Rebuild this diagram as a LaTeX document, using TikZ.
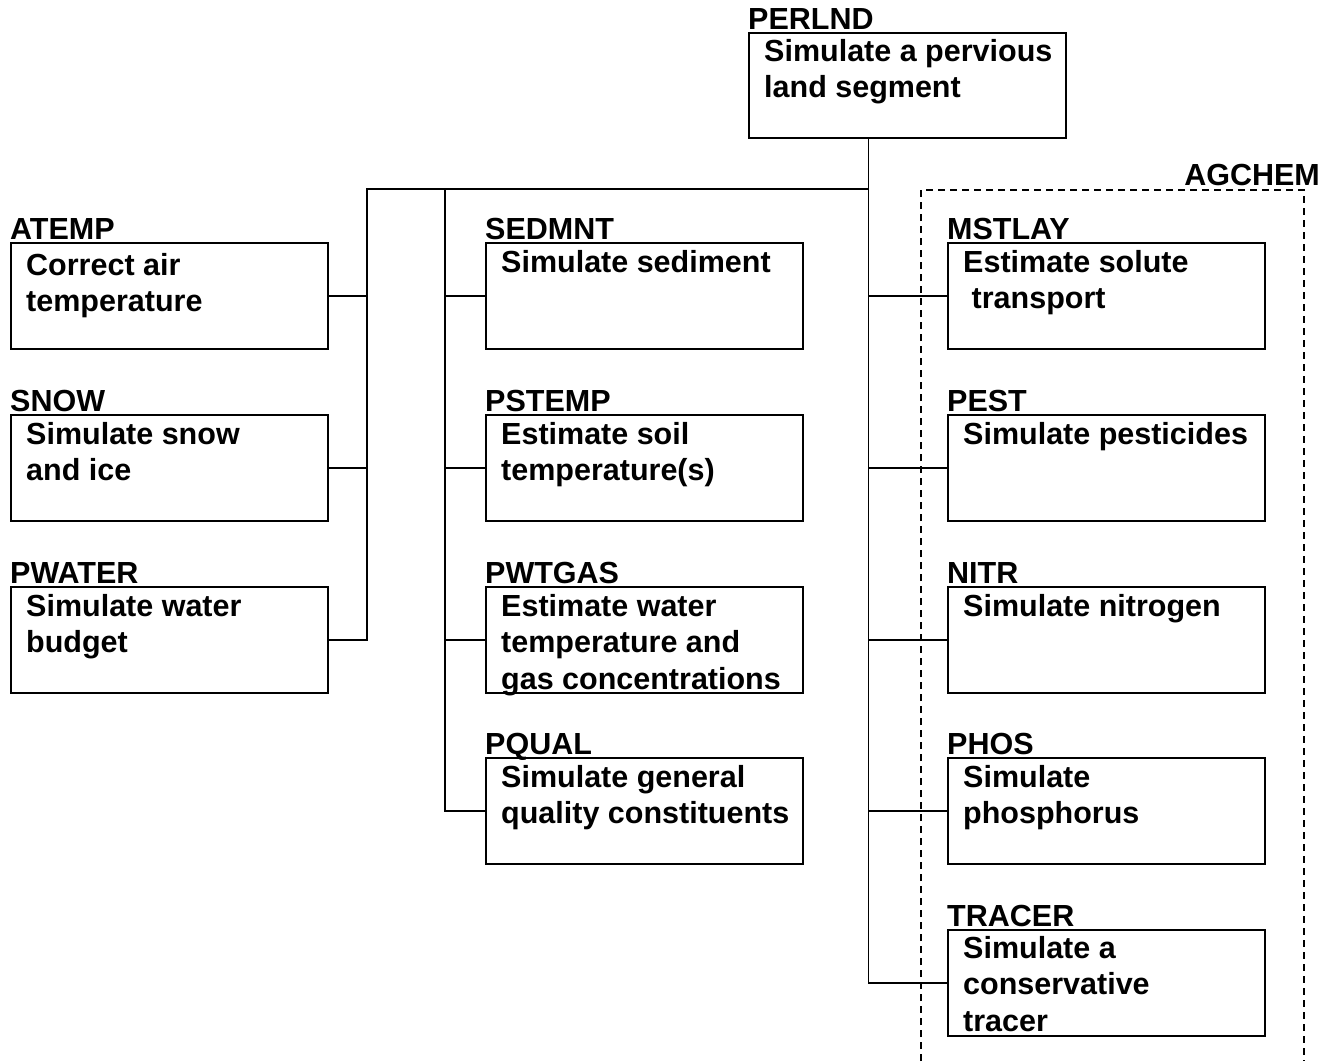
\documentclass[tikz,border=0pt]{standalone}
\usepackage{fontspec}
\setmainfont{Liberation Sans}
\usepackage{tikz}

\tikzset{
  procbox/.style={draw, line width=2pt, minimum width=317pt, minimum height=106pt, inner sep=0pt, anchor=north west},
  codename/.style={anchor=base west, inner sep=0pt, font=\bfseries\fontsize{30.5}{36.5}\selectfont},
  proctext/.style={anchor=base west, inner sep=0pt, font=\bfseries\fontsize{30.5}{36.5}\selectfont},
  conn/.style={line width=1.5pt},
  agframe/.style={line width=1.5pt, dash pattern=on 7pt off 5pt}
}

\begin{document}
\begin{tikzpicture}[x=1pt, y=-1pt]
\useasboundingbox (0,0) rectangle (1337,1061);

% top level module
\node[procbox, minimum height=105pt] (perlnd) at (748,32) {};
\node[codename] (perlndname) at ([yshift=3pt]perlnd.north west) {PERLND};
\node[proctext] (perlndtext) at ([xshift=16pt, yshift=-29pt]perlnd.north west) {\parbox[t]{300pt}{Simulate a pervious\\land segment}};

% left column
\node[procbox] (atemp) at (10,242) {};
\node[procbox] (snow) at (10,414) {};
\node[procbox] (pwater) at (10,586) {};
\node[codename] (atempname) at ([yshift=3pt]atemp.north west) {ATEMP};
\node[codename] (snowname) at ([yshift=3pt]snow.north west) {SNOW};
\node[codename] (pwatername) at ([yshift=3pt]pwater.north west) {PWATER};
\node[proctext] (atemptext) at ([xshift=16pt, yshift=-33pt]atemp.north west) {\parbox[t]{300pt}{Correct air\\temperature}};
\node[proctext] (snowtext) at ([xshift=16pt, yshift=-30pt]snow.north west) {\parbox[t]{300pt}{Simulate snow\\and ice}};
\node[proctext] (pwatertext) at ([xshift=16pt, yshift=-30pt]pwater.north west) {\parbox[t]{300pt}{Simulate water\\budget}};

% middle column
\node[procbox] (sedmnt) at (485,242) {};
\node[procbox] (pstemp) at (485,414) {};
\node[procbox] (pwtgas) at (485,586) {};
\node[procbox] (pqual) at (485,757) {};
\node[codename] (sedmntname) at ([yshift=3pt]sedmnt.north west) {SEDMNT};
\node[codename] (pstempname) at ([yshift=3pt]pstemp.north west) {PSTEMP};
\node[codename] (pwtgasname) at ([yshift=3pt]pwtgas.north west) {PWTGAS};
\node[codename] (pqualname) at ([yshift=3pt]pqual.north west) {PQUAL};
\node[proctext] (sedmnttext) at ([xshift=16pt, yshift=-30pt]sedmnt.north west) {\parbox[t]{300pt}{Simulate sediment}};
\node[proctext] (pstemptext) at ([xshift=16pt, yshift=-30pt]pstemp.north west) {\parbox[t]{300pt}{Estimate soil\\temperature(s)}};
\node[proctext] (pwtgastext) at ([xshift=16pt, yshift=-30pt]pwtgas.north west) {\parbox[t]{300pt}{Estimate water\\temperature and\\gas concentrations}};
\node[proctext] (pqualtext) at ([xshift=16pt, yshift=-30pt]pqual.north west) {\parbox[t]{300pt}{Simulate general\\quality constituents}};

% right column (AGCHEM)
\node[procbox] (mstlay) at (947,242) {};
\node[procbox] (pest) at (947,414) {};
\node[procbox] (nitr) at (947,586) {};
\node[procbox] (phos) at (947,757) {};
\node[procbox] (tracer) at (947,929) {};
\node[codename] (mstlayname) at ([yshift=3pt]mstlay.north west) {MSTLAY};
\node[codename] (pestname) at ([yshift=3pt]pest.north west) {PEST};
\node[codename] (nitrname) at ([yshift=3pt]nitr.north west) {NITR};
\node[codename] (phosname) at ([yshift=3pt]phos.north west) {PHOS};
\node[codename] (tracername) at ([yshift=3pt]tracer.north west) {TRACER};
\node[proctext] (mstlaytext) at ([xshift=16pt, yshift=-30pt]mstlay.north west) {\parbox[t]{300pt}{Estimate solute\\\hspace*{8.5pt}transport}};
\node[proctext] (pesttext) at ([xshift=16pt, yshift=-30pt]pest.north west) {\parbox[t]{300pt}{Simulate pesticides}};
\node[proctext] (nitrtext) at ([xshift=16pt, yshift=-30pt]nitr.north west) {\parbox[t]{300pt}{Simulate nitrogen}};
\node[proctext] (phostext) at ([xshift=16pt, yshift=-30pt]phos.north west) {\parbox[t]{300pt}{Simulate\\phosphorus}};
\node[proctext] (tracertext) at ([xshift=16pt, yshift=-29pt]tracer.north west) {\parbox[t]{300pt}{Simulate a\\conservative\\tracer}};

\draw[agframe] (921,1061) -- (921,190) -- (1304,190) -- (1304,1061);
\node[codename, anchor=base east] (agchem) at (1320,185) {AGCHEM};

% connectors
\coordinate (trunk) at ([xshift=-39pt]perlnd.south);
\coordinate (busL) at (367,189);
\coordinate (busM) at (445,189);
\draw[conn] (trunk) -- (trunk |- tracer.west) -- (tracer.west);
\draw[conn] (trunk |- busL) -- (busL) |- (pwater.east);
\draw[conn] (busL |- atemp.east) -- (atemp.east);
\draw[conn] (busL |- snow.east) -- (snow.east);
\draw[conn] (busM) |- (pqual.west);
\draw[conn] (busM |- sedmnt.west) -- (sedmnt.west);
\draw[conn] (busM |- pstemp.west) -- (pstemp.west);
\draw[conn] (busM |- pwtgas.west) -- (pwtgas.west);
\draw[conn] (trunk |- mstlay.west) -- (mstlay.west);
\draw[conn] (trunk |- pest.west) -- (pest.west);
\draw[conn] (trunk |- nitr.west) -- (nitr.west);
\draw[conn] (trunk |- phos.west) -- (phos.west);
\end{tikzpicture}
\end{document}
